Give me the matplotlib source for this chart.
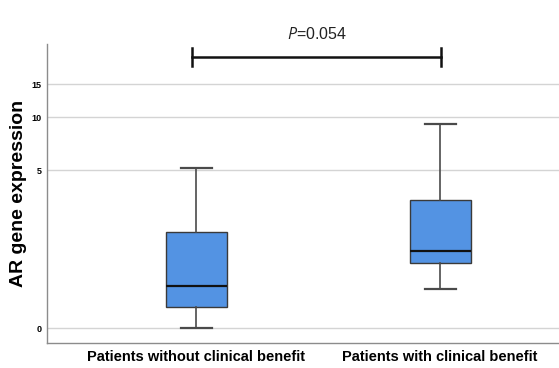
import numpy as np
import matplotlib.pyplot as plt

plt.rcParams['font.family'] = ['Liberation Sans', 'DejaVu Sans']
plt.rcParams['mathtext.fontset'] = 'custom'
plt.rcParams['mathtext.it'] = 'Open Sans:italic'
plt.rcParams['mathtext.rm'] = 'Open Sans'

# box summary per group (raw expression values)
groups = ["Patients without clinical benefit", "Patients with clinical benefit"]
whislo = [0.003, 0.56]
q1 = [0.265, 1.09]
med = [0.61, 1.40]
q3 = [1.99, 3.28]
whishi = [5.18, 9.12]
yticks = [0, 5, 10, 15]
p_text = r"$P$=0.054"

# axis is log(x + 1) transformed, labels shown on the raw scale
f = np.log1p
stats = []
for i, name in enumerate(groups):
    stats.append(dict(label=name, whislo=f(whislo[i]), q1=f(q1[i]), med=f(med[i]),
                      q3=f(q3[i]), whishi=f(whishi[i]), fliers=[]))

fig = plt.figure(figsize=(5.59, 3.68), dpi=100)
ax = fig.add_axes([0.084, 0.068, 0.916, 0.812])

pos = [1, 2]
ax.bxp(stats, positions=pos, widths=0.25, patch_artist=True, showfliers=False,
       boxprops=dict(facecolor="#5393e3", edgecolor="#3a3a3a", linewidth=1.0),
       medianprops=dict(color="#111111", linewidth=1.6),
       whiskerprops=dict(color="#4a4a4a", linewidth=1.2),
       capprops=dict(color="#4a4a4a", linewidth=1.6),
       capwidths=0.127, zorder=3)

ax.set_xlim(0.389, 2.487)
ax.set_ylim(-0.17, 3.227)
ax.set_yticks(f(np.array(yticks)))
ax.set_yticklabels([str(t) for t in yticks], fontsize=6.5, fontweight="bold")
ax.set_xticks(pos)
ax.set_xticklabels(groups, fontsize=10.5, fontweight="bold")
ax.tick_params(axis="both", length=0, pad=5)
ax.tick_params(axis="y", pad=4)
ax.yaxis.grid(True, color="#d4d4d4", linewidth=1.0)
ax.set_axisbelow(True)

for s in ["top", "right"]:
    ax.spines[s].set_visible(False)
for s in ["left", "bottom"]:
    ax.spines[s].set_color("#8c8c8c")
    ax.spines[s].set_linewidth(1.0)

ax.set_ylabel("AR gene expression", fontsize=14, fontweight="bold", labelpad=3)

# significance bracket
by = 3.08
ax.plot([0.985, 2.005], [by, by], color="#111111", linewidth=1.8, clip_on=False)
for x in [0.985, 2.005]:
    ax.plot([x, x], [by - 0.1, by + 0.1], color="#111111", linewidth=1.8, clip_on=False)
ax.text(1.495, by + 0.17, p_text, ha="center", va="bottom", fontsize=11.5,
        color="#222222", transform=ax.transData, clip_on=False)

fig.savefig("out.png", dpi=100)
